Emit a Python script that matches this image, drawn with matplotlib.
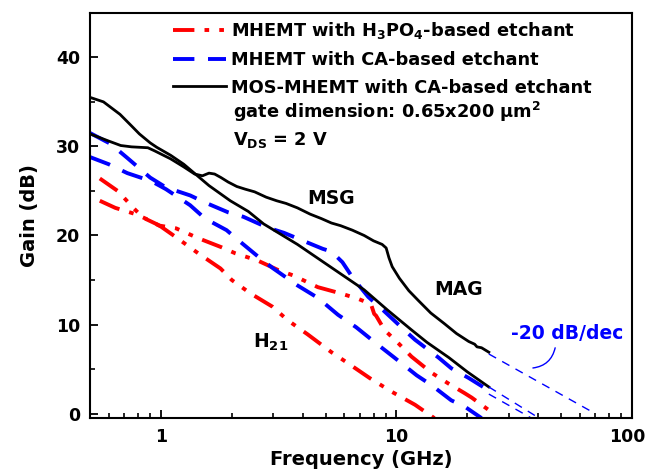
import matplotlib
matplotlib.use("Agg")
import matplotlib.pyplot as plt
import matplotlib.transforms as mtransforms
from matplotlib.lines import Line2D
from matplotlib.ticker import LogLocator, NullFormatter, FixedLocator, FuncFormatter

plt.rcParams['font.family'] = ['DejaVu Sans']
plt.rcParams['font.weight'] = 'bold'
plt.rcParams['mathtext.fontset'] = 'custom'
plt.rcParams['mathtext.rm'] = 'DejaVu Sans:bold'
plt.rcParams['mathtext.it'] = 'DejaVu Sans:bold'
plt.rcParams['mathtext.bf'] = 'DejaVu Sans:bold'

# ---- data (frequency in GHz, gain in dB) ----
mos_msg_f = [0.5, 0.6, 0.675, 0.75, 0.88, 0.94, 1.1, 1.25, 1.39, 1.5, 1.6, 1.69, 1.8, 1.93,
             2.1, 2.28, 2.5, 2.8, 3.1, 3.4, 3.8, 4.3, 4.8, 5.3, 5.8, 6.5, 7.3, 8.0, 8.7, 9.05,
             9.3, 9.6, 10.3, 11.3, 12.4, 14.0, 16.0, 18.0, 20.3, 21.5, 22.0, 23.0, 24.7]
mos_msg_g = [31.4, 30.6, 30.1, 29.95, 29.85, 29.5, 28.6, 27.7, 26.9, 26.7, 27.0, 26.9, 26.5, 26.0,
             25.5, 25.2, 24.9, 24.3, 23.9, 23.6, 23.1, 22.4, 21.9, 21.4, 21.1, 20.6, 20.0, 19.4, 19.0, 18.6,
             17.5, 16.5, 15.2, 13.8, 12.7, 11.3, 10.1, 9.0, 8.1, 7.8, 7.5, 7.4, 6.9]

mos_h21_f = [0.5, 0.57, 0.67, 0.75, 0.81, 0.9, 0.96, 1.1, 1.25, 1.4, 1.6, 1.97, 2.35, 2.73,
             3.8, 5.3, 7.3, 9.2, 11.6, 13.5, 16.7, 20.0, 24.7]
mos_h21_g = [35.5, 35.0, 33.6, 32.3, 31.4, 30.4, 29.9, 29.0, 28.0, 26.9, 25.6, 23.9, 22.7, 21.3,
             19.0, 16.4, 13.9, 11.6, 9.4, 8.0, 6.3, 4.7, 3.0]

ca_msg_f = [0.5, 0.61, 0.72, 0.9, 1.05, 1.33, 1.54, 1.93, 2.24, 2.83, 3.33, 4.2, 4.87, 5.3,
            5.9, 6.55, 7.6, 8.8, 10.8, 12.0, 15.1, 17.1, 20.3, 24.7]
ca_msg_g = [31.5, 30.3, 28.7, 26.5, 25.4, 24.5, 23.7, 22.6, 22.1, 20.9, 20.3, 19.2, 18.5, 18.2,
            17.0, 15.2, 13.1, 11.6, 9.4, 8.3, 6.3, 5.1, 4.0, 2.6]

ca_h21_f = [0.5, 0.6, 0.72, 0.91, 1.05, 1.33, 1.54, 1.9, 2.17, 2.65, 3.0, 3.8, 4.64, 5.65,
            6.75, 8.2, 9.8, 12.2, 14.1, 17.1, 19.5, 23.0]
ca_h21_g = [28.8, 28.0, 27.0, 26.1, 25.2, 23.4, 21.9, 20.6, 19.3, 17.4, 16.3, 14.4, 13.0, 11.1,
            9.7, 7.9, 6.3, 4.3, 3.2, 1.5, 0.8, -0.5]

h3po4_msg_f = [0.55, 0.655, 0.77, 0.84, 0.99, 1.16, 1.44, 1.8, 2.07, 2.57, 3.16, 3.66, 4.64,
               5.8, 6.87, 7.8, 8.05, 8.2, 8.9, 10.2, 11.6, 14.1, 16.6, 19.5, 20.9, 24.7]
h3po4_msg_g = [26.4, 25.0, 23.0, 22.0, 21.1, 20.8, 19.7, 18.7, 18.0, 17.2, 16.1, 15.5, 14.2,
               13.5, 12.9, 12.3, 11.2, 11.0, 9.4, 7.9, 6.4, 4.6, 3.4, 2.3, 1.8, 0.4]

h3po4_h21_f = [0.55, 0.64, 0.78, 0.86, 1.0, 1.16, 1.44, 1.79, 2.0, 2.4, 2.98, 3.45, 4.2, 5.3,
               6.2, 7.7, 9.5, 12.0, 14.5]
h3po4_h21_g = [23.9, 23.1, 22.4, 21.9, 21.0, 19.8, 18.0, 16.3, 15.0, 13.5, 12.0, 10.5, 8.9, 6.9,
               5.7, 4.0, 2.5, 1.0, -0.5]

# -20 dB/dec extrapolations
ext1_f = [24.7, 70.0]
ext1_g = [6.7, 0.0]
ext2_f = [24.7, 40.4]
ext2_g = [3.0, -0.5]
ext3_f = [24.7, 37.5]
ext3_g = [2.2, -0.5]

legend_labels = [r'MHEMT with H$_3$PO$_4$-based etchant',
                 'MHEMT with CA-based etchant',
                 'MOS-MHEMT with CA-based etchant']

xticks = [1, 10, 100]
yticks = [0, 10, 20, 30, 40]

# ---- figure ----
fig = plt.figure(figsize=(6.48, 4.73), dpi=100)
ax = fig.add_axes([0.139, 0.116, 0.836, 0.857])

lw_c = 2.8
red_ls = (0, (5.5, 2.6, 1.2, 2.6, 1.2, 2.6))
blue_ls = (0, (5.5, 3.5))

ax.plot(h3po4_msg_f, h3po4_msg_g, color='#ff0000', lw=lw_c, ls=red_ls)
ax.plot(h3po4_h21_f, h3po4_h21_g, color='#ff0000', lw=lw_c, ls=red_ls)
ax.plot(ca_msg_f, ca_msg_g, color='#0000ff', lw=lw_c, ls=blue_ls)
ax.plot(ca_h21_f, ca_h21_g, color='#0000ff', lw=lw_c, ls=blue_ls)
ax.plot(mos_msg_f, mos_msg_g, color='black', lw=2.0)
ax.plot(mos_h21_f, mos_h21_g, color='black', lw=2.0)

thin_ls = (0, (6, 5))
for fx, gy in [(ext1_f, ext1_g), (ext2_f, ext2_g), (ext3_f, ext3_g)]:
    ax.plot(fx, gy, color='#0000ff', lw=1.0, ls=thin_ls)

ax.set_xscale('log')
ax.set_xlim(0.5, 100)
ax.set_ylim(-0.5, 45)
ax.xaxis.set_major_locator(FixedLocator(xticks))
ax.xaxis.set_major_formatter(FuncFormatter(lambda v, p: f'{v:g}'))
ax.xaxis.set_minor_locator(LogLocator(base=10, subs=range(2, 10), numticks=20))
ax.xaxis.set_minor_formatter(NullFormatter())
ax.yaxis.set_major_locator(FixedLocator(yticks))
ax.yaxis.set_minor_locator(FixedLocator([5, 15, 25, 35]))
ax.tick_params(which='major', direction='in', length=6, width=1.3, labelsize=12.5, pad=7)
ax.tick_params(which='minor', direction='in', length=3.5, width=1.2)
ax.tick_params(top=False, right=False, which='both')
for s in ax.spines.values():
    s.set_linewidth(1.5)

ax.set_xlabel('Frequency (GHz)', fontsize=14, fontweight='bold', labelpad=3)
ax.set_ylabel('Gain (dB)', fontsize=14, fontweight='bold', labelpad=12)

handles = [Line2D([], [], color='#ff0000', lw=lw_c, ls=red_ls),
           Line2D([], [], color='#0000ff', lw=lw_c, ls=blue_ls),
           Line2D([], [], color='black', lw=2.0)]
leg = ax.legend(handles, legend_labels, loc='upper left', bbox_to_anchor=(0.145, 0.993),
                frameon=False, fontsize=12.8, handlelength=3.0, handletextpad=0.25,
                labelspacing=0.55, borderpad=0.25, borderaxespad=0.0)

ax.text(0.264, 0.755, r'gate dimension: 0.65x200 $\mu$m$^2$', transform=ax.transAxes,
        fontsize=12.8, fontweight='bold', va='center', ha='left')
ax.text(0.264, 0.686, r'V$_\mathregular{DS}$ = 2 V', transform=ax.transAxes,
        fontsize=12.8, fontweight='bold', va='center', ha='left')

ax.text(5.27, 24.2, 'MSG', fontsize=13.5, fontweight='bold', ha='center', va='center')
ax.text(18.4, 13.9, 'MAG', fontsize=13.5, fontweight='bold', ha='center', va='center')
ax.text(2.45, 8.0, r'H$_{21}$', fontsize=13.5, fontweight='bold', ha='left', va='center')
ax.text(53, 9.0, '-20 dB/dec', fontsize=13.5, fontweight='bold', ha='center', va='center',
        color='#0000ff')
ax.annotate('', xy=(37, 5.1), xytext=(47.5, 7.7),
            arrowprops=dict(arrowstyle='-', color='#0000ff', lw=1.0,
                            connectionstyle='arc3,rad=-0.4'))

# nudge the last x tick label slightly left so it stays inside the figure
fig.canvas.draw()
labels = ax.get_xticklabels()
shift = mtransforms.ScaledTranslation(-5 / 100, 0, fig.dpi_scale_trans)
for lab in labels:
    if lab.get_text() == '100':
        lab.set_transform(lab.get_transform() + shift)

fig.savefig('out.png', dpi=100)
